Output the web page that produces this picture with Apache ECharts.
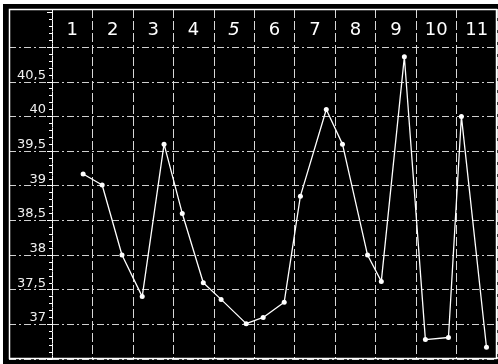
<!DOCTYPE html>
<html>
<head>
<meta charset="utf-8">
<style>
html,body{margin:0;padding:0;background:#fff;}
#c{width:498px;height:364px;}
</style>
<script src="https://cdn.jsdelivr.net/npm/echarts@6/dist/echarts.min.js"></script>
</head>
<body>
<div id="c"></div>
<script>
// Day labels across the top
var dayLabels = ['1','2','3','4','5','6','7','8','9','10','11'];
// Y tick labels (temperature, comma decimals)
var yTickValues = [37, 37.5, 38, 38.5, 39, 39.5, 40, 40.5];
var yTickLabels = ['37', '37,5', '38', '38,5', '39', '39,5', '40', '40,5'];
// Reading times (in days, 0 = start of day 1) and temperatures
var readingTimes = [0.77, 1.24, 1.73, 2.23, 2.77, 3.22, 3.74, 4.18, 4.80, 5.22, 5.74,
                    6.14, 6.78, 7.18, 7.80, 8.14, 8.71, 9.23, 9.80, 10.12, 10.74];
var temperatures = [39.17, 39.01, 38.0, 37.4, 39.6, 38.6, 37.6, 37.36, 37.01, 37.1, 37.32,
                    38.85, 40.1, 39.6, 38.0, 37.62, 40.86, 36.78, 36.81, 40.0, 36.67];

var points = readingTimes.map(function (t, i) { return [t, temperatures[i]]; });

// horizontal split line colours: hide the 41.5 line (index 10) next to the frame
var hColors = [];
for (var k = 0; k < 12; k++) hColors.push(k === 10 ? 'rgba(0,0,0,0)' : '#d0d0d0');
var vLine = {color: '#d8d8d8', width: 1, type: [9, 3]};
var hLine = {color: hColors, width: 1, type: [7, 3, 2, 3]};

var chart = echarts.init(document.getElementById('c'), null, {renderer: 'canvas'});
chart.setOption({
  backgroundColor: '#fff',
  animation: false,
  graphic: [
    {type: 'rect', z: -10, silent: true, shape: {x: 3, y: 4, width: 495, height: 360}, style: {fill: '#000'}},
    {type: 'rect', z: 100, silent: true, shape: {x: 9.5, y: 9.5, width: 487, height: 349}, style: {fill: null, stroke: '#fff', lineWidth: 1.5}}
  ],
  grid: [
    {left: 52, right: 1, top: 9, bottom: 5, containLabel: false, outerBoundsMode: 'none'},
    {left: 9, width: 43, top: 9, bottom: 5, containLabel: false, outerBoundsMode: 'none'}
  ],
  xAxis: [
    {
      gridIndex: 0, type: 'value', min: 0, max: 11, interval: 1,
      axisLine: {show: false}, axisTick: {show: false}, axisLabel: {show: false},
      splitLine: {show: true, lineStyle: vLine}
    },
    {
      gridIndex: 0, type: 'category', position: 'top', data: dayLabels, boundaryGap: true,
      axisLine: {show: false}, axisTick: {show: false}, splitLine: {show: false},
      axisLabel: {
        show: true, inside: true, margin: 12, color: '#fff', fontSize: 18,
        fontFamily: 'DejaVu Sans', verticalAlign: 'top', interval: 0,
        formatter: function (v) { return v === '5' ? '{i|' + v + '}' : v; },
        rich: {i: {fontStyle: 'italic', fontSize: 18, color: '#fff', fontFamily: 'DejaVu Sans'}}
      }
    },
    {
      gridIndex: 1, type: 'value', min: 0, max: 1, show: false
    }
  ],
  yAxis: [
    {
      gridIndex: 0, type: 'value', min: 36.5, max: 41.55, interval: 0.5, position: 'left',
      axisLine: {show: true, onZero: false, lineStyle: {color: '#fff', width: 1, type: 'dotted'}},
      axisTick: {show: true, length: 5, lineStyle: {color: '#fff'}},
      minorTick: {show: true, splitNumber: 5, length: 3, lineStyle: {color: '#fff'}},
      splitLine: {show: true, lineStyle: hLine},
      axisLabel: {
        color: '#f0f0f0', fontSize: 13, fontFamily: 'DejaVu Sans', margin: 6,
        verticalAlign: 'bottom',
        formatter: function (v) {
          for (var i = 0; i < yTickValues.length; i++) {
            if (Math.abs(yTickValues[i] - v) < 1e-6) return yTickLabels[i];
          }
          return '';
        }
      }
    },
    {
      gridIndex: 1, type: 'value', min: 36.5, max: 41.55, interval: 0.5,
      axisLine: {show: false}, axisTick: {show: false}, axisLabel: {show: false},
      splitLine: {show: true, lineStyle: hLine}
    }
  ],
  series: [{
    type: 'line', xAxisIndex: 0, yAxisIndex: 0, data: points,
    symbol: 'circle', symbolSize: 5,
    lineStyle: {color: '#fff', width: 1.3},
    itemStyle: {color: '#fff'},
    z: 10
  }]
});
</script>
</body>
</html>
